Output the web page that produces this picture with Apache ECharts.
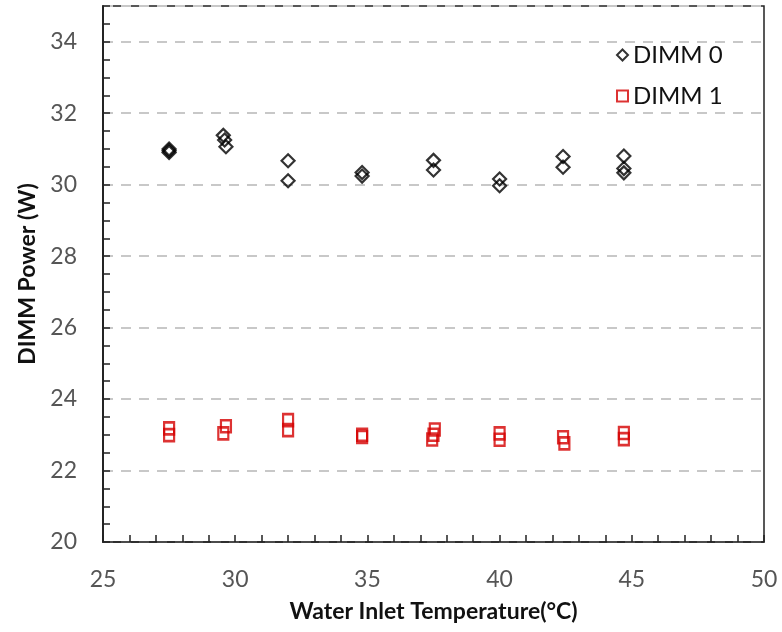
<!DOCTYPE html>
<html>
<head>
<meta charset="utf-8">
<script src="https://cdn.jsdelivr.net/npm/echarts@6/dist/echarts.min.js"></script>
<style>html,body{margin:0;padding:0;background:#fff;}#c{width:782px;height:632px;}</style>
</head>
<body>
<div id="c"></div>
<script>
const xTicks = [25, 30, 35, 40, 45, 50];
const yTicks = [20, 22, 24, 26, 28, 30, 32, 34];
const dimm0X = [27.5, 27.5, 27.5, 29.55, 29.6, 29.65, 32.0, 32.0, 34.8, 34.8, 37.5, 37.5, 40.0, 40.0, 42.4, 42.4, 44.7, 44.7, 44.7];
const dimm0Y = [31.0, 30.95, 30.9, 31.38, 31.25, 31.06, 30.67, 30.11, 30.34, 30.24, 30.68, 30.41, 30.16, 29.97, 30.79, 30.49, 30.8, 30.45, 30.33];
const dimm1X = [27.5, 27.5, 29.65, 29.55, 32.0, 32.0, 34.8, 34.8, 37.55, 37.5, 37.45, 40.0, 40.0, 42.4, 42.45, 44.7, 44.7];
const dimm1Y = [23.18, 22.99, 23.24, 23.04, 23.41, 23.13, 23.0, 22.94, 23.15, 23.0, 22.87, 23.04, 22.86, 22.93, 22.76, 23.05, 22.88];

const pairs = (xs, ys) => xs.map((x, i) => [x, ys[i]]);
const labelFont = "Lato, 'Open Sans', sans-serif";

const chart = echarts.init(document.getElementById('c'));
chart.setOption({
  animation: false,
  backgroundColor: '#fff',
  grid: { left: 103, right: 18, top: 6, bottom: 90, show: true, borderColor: '#222', borderWidth: 1.5, backgroundColor: 'transparent' },
  legend: {
    orient: 'vertical', left: 611, top: 38, itemGap: 17,
    itemWidth: 11, itemHeight: 11,
    textStyle: { fontSize: 24, color: '#111', fontFamily: labelFont },
    data: ['DIMM 0', 'DIMM 1']
  },
  xAxis: {
    type: 'value', min: 25, max: 50, interval: 1,
    name: 'Water Inlet Temperature(°C)', nameLocation: 'middle', nameGap: 58,
    nameTextStyle: { fontSize: 23, fontWeight: 'bold', color: '#111', fontFamily: labelFont },
    axisLine: { show: true, lineStyle: { color: '#222', width: 1.5 } },
    axisTick: { show: true, inside: true, length: 7, lineStyle: { color: '#222', width: 1.5 } },
    splitLine: { show: false },
    axisLabel: {
      margin: 26, fontSize: 23, color: '#555', fontFamily: labelFont,
      formatter: v => (xTicks.indexOf(v) >= 0 ? String(v) : '')
    }
  },
  yAxis: [
    {
      type: 'value', min: 20, max: 35, interval: 2,
      name: 'DIMM Power (W)', nameLocation: 'middle', nameGap: 64,
      nameTextStyle: { fontSize: 23, fontWeight: 'bold', color: '#111', fontFamily: labelFont },
      axisLine: { show: true, lineStyle: { color: '#222', width: 1.5 } },
      axisTick: { show: false },
      splitLine: { show: true, lineStyle: { color: '#c8c8c8', width: 2, type: [10, 8] } },
      axisLabel: {
        margin: 26, fontSize: 23, color: '#555', fontFamily: labelFont,
        formatter: v => (yTicks.indexOf(v) >= 0 ? String(v) : '')
      }
    },
    {
      type: 'value', min: 20, max: 35, interval: 0.5, position: 'left',
      axisLine: { show: true, onZero: false, lineStyle: { color: '#222', width: 1.5 } },
      axisTick: { show: true, inside: true, length: 7, lineStyle: { color: '#222', width: 1.5 } },
      axisLabel: { show: false },
      splitLine: { show: false }
    }
  ],
  series: [
    {
      name: 'DIMM 0', type: 'scatter', yAxisIndex: 0,
      symbol: 'diamond', symbolSize: 13,
      itemStyle: { color: 'rgba(255,255,255,0)', borderColor: '#000', borderWidth: 2.2 },
      data: pairs(dimm0X, dimm0Y)
    },
    {
      name: 'DIMM 1', type: 'scatter', yAxisIndex: 0,
      symbol: 'rect', symbolSize: [10, 12],
      itemStyle: { color: 'rgba(255,255,255,0)', borderColor: '#d40000', borderWidth: 2.4 },
      data: pairs(dimm1X, dimm1Y)
    }
  ]
});
</script>
</body>
</html>
